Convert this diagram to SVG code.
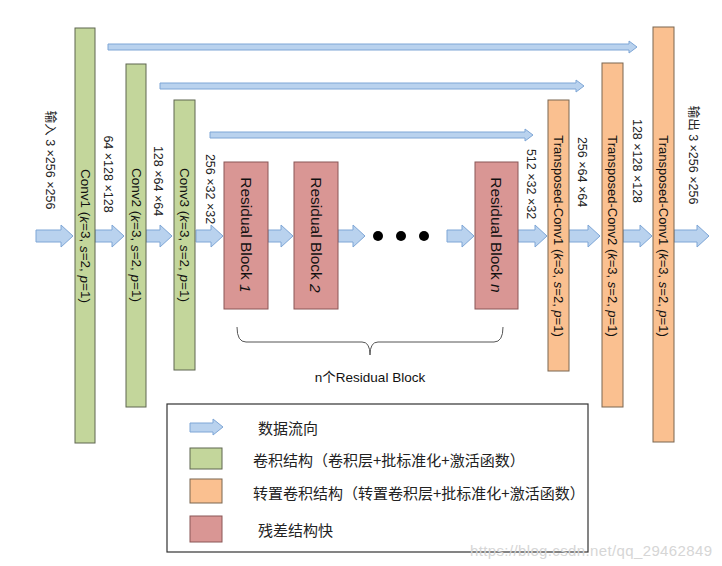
<svg xmlns="http://www.w3.org/2000/svg" width="722" height="566" viewBox="0 0 722 566">
<style>
.conv{fill:#c3d69b;stroke:#5f6650;stroke-width:1}
.tconv{fill:#fac090;stroke:#7a6650;stroke-width:1}
.res{fill:#d99694;stroke:#8a5656;stroke-width:1}
.arr{fill:#b9d2ee;stroke:#7ea6d6;stroke-width:1}
.t{font-family:"Liberation Sans","Noto Sans CJK SC",sans-serif;fill:#111;text-anchor:middle;dominant-baseline:central}
.lbl{font-family:"Liberation Sans","Noto Sans CJK SC",sans-serif;fill:#222;font-size:12.5px;text-anchor:middle;dominant-baseline:central}
.lg{font-family:"Noto Sans CJK SC",sans-serif;fill:#222;font-size:15px;dominant-baseline:central}
.i{font-style:italic}
</style>
<rect width="722" height="566" fill="#fff"/>

<g id="connectors">
  <path class="arr" d="M108,44 H629 V41 L637,47 L629,53 V50 H108 Z"/>
  <path class="arr" d="M160,83 H576 V80 L584,86 L576,92 V89 H160 Z"/>
  <path class="arr" d="M210,132 H525 V129 L533,135 L525,141 V138 H210 Z"/>
  <path class="arr" d="M36,230 H61 V225 L73,236 L61,247 V242 H36 Z"/>
  <path class="arr" d="M95,230 H112 V225 L124,236 L112,247 V242 H95 Z"/>
  <path class="arr" d="M146,230 H160 V225 L172,236 L160,247 V242 H146 Z"/>
  <path class="arr" d="M196,230 H211 V225 L223,236 L211,247 V242 H196 Z"/>
  <path class="arr" d="M268,230 H281 V225 L293,236 L281,247 V242 H268 Z"/>
  <path class="arr" d="M338,230 H353 V225 L365,236 L353,247 V242 H338 Z"/>
  <path class="arr" d="M447,230 H462 V225 L474,236 L462,247 V242 H447 Z"/>
  <path class="arr" d="M518,230 H535 V225 L547,236 L535,247 V242 H518 Z"/>
  <path class="arr" d="M569,230 H588 V225 L600,236 L588,247 V242 H569 Z"/>
  <path class="arr" d="M623,230 H640 V225 L652,236 L640,247 V242 H623 Z"/>
  <path class="arr" d="M674,230 H697 V225 L709,236 L697,247 V242 H674 Z"/>
</g>

<g id="dots" fill="#000">
  <circle cx="378" cy="236" r="5"/>
  <circle cx="401" cy="236" r="5"/>
  <circle cx="424" cy="236" r="5"/>
</g>

<g id="labels">
  <text class="lbl" transform="translate(50,160) rotate(90)">输入 3 ×256 ×256</text>
  <text class="lbl" transform="translate(108,174) rotate(90)">64 ×128 ×128</text>
  <text class="lbl" transform="translate(158,181) rotate(90)">128 ×64 ×64</text>
  <text class="lbl" transform="translate(210,189) rotate(90)">256 ×32 ×32</text>
  <text class="lbl" transform="translate(531,184) rotate(90)">512 ×32 ×32</text>
  <text class="lbl" transform="translate(582,172) rotate(90)">256 ×64 ×64</text>
  <text class="lbl" transform="translate(637,161) rotate(90)">128 ×128 ×128</text>
  <text class="lbl" transform="translate(693,155) rotate(90)">输出 3 ×256 ×256</text>
</g>

<g id="conv1">
  <rect class="conv" x="75" y="28" width="20" height="415"/>
  <text class="t" font-size="13.5" transform="translate(85,236) rotate(90)">Conv1 (<tspan class="i">k</tspan>=3, <tspan class="i">s</tspan>=2, <tspan class="i">p</tspan>=1)</text>
</g>
<g id="conv2">
  <rect class="conv" x="126" y="64" width="20" height="343"/>
  <text class="t" font-size="13.5" transform="translate(136,235) rotate(90)">Conv2 (<tspan class="i">k</tspan>=3, <tspan class="i">s</tspan>=2, <tspan class="i">p</tspan>=1)</text>
</g>
<g id="conv3">
  <rect class="conv" x="174" y="100" width="21" height="270"/>
  <text class="t" font-size="13.5" transform="translate(184.5,235) rotate(90)">Conv3 (<tspan class="i">k</tspan>=3, <tspan class="i">s</tspan>=2, <tspan class="i">p</tspan>=1)</text>
</g>
<g id="res1">
  <rect class="res" x="224" y="162" width="44" height="147"/>
  <text class="t" font-size="15.5" transform="translate(246,235) rotate(90)">Residual Block <tspan class="i">1</tspan></text>
</g>
<g id="res2">
  <rect class="res" x="294" y="162" width="44" height="147"/>
  <text class="t" font-size="15.5" transform="translate(316,235) rotate(90)">Residual Block <tspan class="i">2</tspan></text>
</g>
<g id="resn">
  <rect class="res" x="475" y="162" width="43" height="147"/>
  <text class="t" font-size="15.5" transform="translate(496.5,235) rotate(90)">Residual Block <tspan class="i">n</tspan></text>
</g>
<g id="tconv1">
  <rect class="tconv" x="548" y="100" width="21" height="271"/>
  <text class="t" font-size="13" transform="translate(558.5,236) rotate(90)">Transposed-Conv1 (<tspan class="i">k</tspan>=3, <tspan class="i">s</tspan>=2, <tspan class="i">p</tspan>=1)</text>
</g>
<g id="tconv2">
  <rect class="tconv" x="602" y="63" width="21" height="344"/>
  <text class="t" font-size="13" transform="translate(612.5,236) rotate(90)">Transposed-Conv2 (<tspan class="i">k</tspan>=3, <tspan class="i">s</tspan>=2, <tspan class="i">p</tspan>=1)</text>
</g>
<g id="tconv3">
  <rect class="tconv" x="653" y="27" width="21" height="415"/>
  <text class="t" font-size="13" transform="translate(663.5,236) rotate(90)">Transposed-Conv1 (<tspan class="i">k</tspan>=3, <tspan class="i">s</tspan>=2, <tspan class="i">p</tspan>=1)</text>
</g>

<g id="brace">
  <path d="M237,327 Q237,342 246,342 H362 Q370,342 370,355 Q370,342 378,342 H494 Q503,342 503,327" fill="none" stroke="#555" stroke-width="1"/>
  <text class="t" font-size="13.5" x="370" y="377">n个Residual Block</text>
</g>

<g id="legend">
  <rect x="167" y="404" width="421" height="148" fill="#fff" stroke="#333" stroke-width="1.2"/>
  <path class="arr" d="M190,423 H213 V419 L223,427 L213,435 V432 H190 Z"/>
  <text class="lg" x="258" y="427">数据流向</text>
  <rect class="conv" x="190" y="448" width="32" height="21"/>
  <text class="lg" x="253" y="459">卷积结构（卷积层+批标准化+激活函数）</text>
  <rect class="tconv" x="190" y="479" width="32" height="24"/>
  <text class="lg" x="253" y="492">转置卷积结构（转置卷积层+批标准化+激活函数）</text>
  <rect class="res" x="190" y="516" width="32" height="26"/>
  <text class="lg" x="258" y="529">残差结构快</text>
</g>

<text x="470" y="556" font-family="Liberation Sans, sans-serif" font-size="15" fill="#d6d6d6" textLength="242">https://blog.csdn.net/qq_29462849</text>
</svg>
